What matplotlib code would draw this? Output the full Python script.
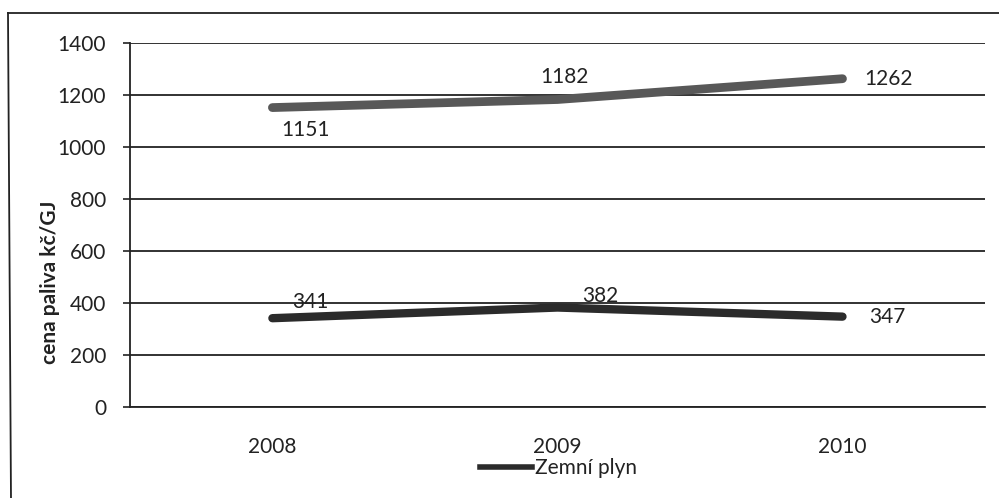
import matplotlib.pyplot as plt
from matplotlib.lines import Line2D

plt.rcParams["font.family"] = ["Lato", "DejaVu Sans"]

years = ["2008", "2009", "2010"]
upper_prices = [1151, 1182, 1262]
gas_prices = [341, 382, 347]
y_ticks = [0, 200, 400, 600, 800, 1000, 1200, 1400]

# label offsets in points (dx, dy) for each point
upper_offsets = [(24, -16), (5, 16), (33, 0)]
gas_offsets = [(27, 12), (31, 8), (32, 0)]

fig = plt.figure(figsize=(9.99, 4.98), dpi=100)
ax = fig.add_axes([0.130, 0.183, 0.856, 0.731])

x = range(len(years))
ax.plot(x, upper_prices, color="#585858", lw=6.3, solid_capstyle="round", zorder=3)
ax.plot(x, gas_prices, color="#2b2b2b", lw=6, solid_capstyle="round", zorder=3)

ax.set_xlim(-0.5, 2.5)
ax.set_ylim(0, 1400)
ax.set_yticks(y_ticks)
ax.set_xticks(list(x))
ax.set_xticklabels(years)
ax.tick_params(axis="y", labelsize=15, length=5, width=1.2, color="#222", pad=12, labelcolor="#222")
ax.tick_params(axis="x", labelsize=15, length=0, pad=22, labelcolor="#222")
ax.yaxis.grid(True, color="#222", lw=1.3)
ax.set_axisbelow(True)
for side in ("top", "right"):
    ax.spines[side].set_visible(False)
for side in ("left", "bottom"):
    ax.spines[side].set_color("#222")
    ax.spines[side].set_linewidth(1.3)

ax.set_ylabel("cena paliva kč/GJ", fontsize=15, fontweight="bold", color="#222")
ax.yaxis.set_label_coords(-0.082, 0.343)

lab = dict(fontsize=15, color="#222", ha="center", va="center", textcoords="offset points")
for i, v in enumerate(upper_prices):
    ax.annotate(str(v), (i, v), xytext=upper_offsets[i], **lab)
for i, v in enumerate(gas_prices):
    ax.annotate(str(v), (i, v), xytext=gas_offsets[i], **lab)

legend_handle = Line2D([], [], color="#2b2b2b", lw=4)
fig.legend([legend_handle], ["Zemní plyn"], loc="center", bbox_to_anchor=(0.559, 0.06),
           frameon=False, fontsize=15, handlelength=2.5, handletextpad=0.15, labelcolor="#222")

# outer chart frame (scanned, only left and top edges visible)
fig.add_artist(Line2D([0.008, 0.011], [0.974, 0.0], transform=fig.transFigure, color="#222", lw=1.3))
fig.add_artist(Line2D([0.008, 1.0], [0.974, 0.974], transform=fig.transFigure, color="#222", lw=1.3))

fig.savefig("out.png", dpi=100)
